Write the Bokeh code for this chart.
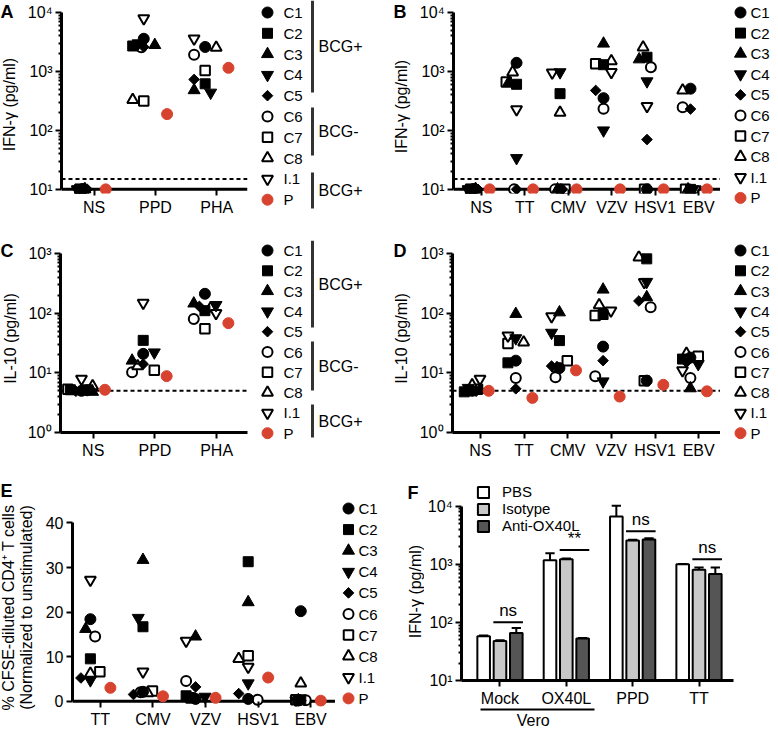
import math
from bokeh.plotting import figure
from bokeh.models import Range1d, FixedTicker, Span, LinearAxis, Legend, LegendItem, ColumnDataSource
from bokeh.layouts import row, column
from bokeh.core.properties import value
from bokeh.embed import file_html
from bokeh.resources import INLINE

FONT = "Liberation Sans"
RED = "#d8432f"
BRACKET = "#333333"

SERIES = ["C1", "C2", "C3", "C4", "C5", "C6", "C7", "C8", "I.1", "P"]

# ---------------- data ----------------
A_CATS = ["NS", "PPD", "PHA"]
A_VALUES = {
    "C1": [10, 3580, 2600], "C2": [10, 2700, 617], "C3": [10, 2800, 480],
    "C4": [10, 3000, 437], "C5": [10, 2600, 731], "C6": [10, 2570, 1920],
    "C7": [10, 314, 1040], "C8": [10, 330, 2530], "I.1": [10, 7900, 3580],
    "P": [10, 189, 1150],
}

B_CATS = ["NS", "TT", "CMV", "VZV", "HSV1", "EBV"]
B_VALUES = {
    "C1": [10, 1400, 10, 352, 10, 510], "C2": [10, 605, 420, 1300, 1740, 10],
    "C3": [10, 650, 10, 2960, 1600, 10], "C4": [10, 34, 970, 100, 680, 10],
    "C5": [10, 10, 10, 476, 70, 230], "C6": [10, 10, 10, 233, 1180, 248],
    "C7": [10, 660, 10, 1350, 10, 10], "C8": [10, 970, 200, 1500, 2570, 476],
    "I.1": [10, 227, 950, 970, 258, 10], "P": [10, 10, 10, 10, 10, 10],
}

C_CATS = ["NS", "PPD", "PHA"]
C_VALUES = {
    "C1": [5.0, 20.8, 211], "C2": [5.2, 35, 110], "C3": [4.8, 16, 145],
    "C4": [5.5, 22, 137], "C5": [4.9, 14, 130], "C6": [5.1, 10.2, 80],
    "C7": [5.3, 11, 55], "C8": [6.0, 13, 120], "I.1": [7.9, 149, 100],
    "P": [5.2, 8.8, 68],
}

D_CATS = ["NS", "TT", "CMV", "VZV", "HSV1", "EBV"]
D_VALUES = {
    "C1": [5.0, 16, 12, 27.5, 7.4, 18], "C2": [4.8, 14.7, 34.7, 95, 813, 17],
    "C3": [5.2, 97, 103, 248, 185, 5.5], "C4": [5.6, 38, 47, 7.2, 335, 14],
    "C5": [4.9, 5.4, 13, 16, 160, 15], "C6": [5.1, 8.2, 8.4, 8.8, 126, 8.2],
    "C7": [5.3, 31, 16, 91, 7.4, 19], "C8": [6.2, 32.5, 12, 137, 865, 21],
    "I.1": [7.9, 42, 88, 110, 330, 11], "P": [5.0, 3.8, 11, 4.0, 6.3, 4.9],
}

E_CATS = ["TT", "CMV", "VZV", "HSV1", "EBV"]
E_VALUES = {
    "C1": [18.4, 2.1, 0.5, 0.5, 20.2], "C2": [9.5, 16.7, 1.2, 31.3, 0.3],
    "C3": [16.2, 31.7, 14.5, 22.2, 0.2], "C4": [4.7, 18.7, 1.0, 4.0, 0.1],
    "C5": [5.2, 1.5, 3.2, 1.7, 0.1], "C6": [14.5, 2.0, 4.5, 0.3, 0.2],
    "C7": [6.6, 2.3, 0.7, 10.2, 0.3], "C8": [6.2, 1.8, 0.5, 9.5, 4.0],
    "I.1": [27.2, 6.6, 13.5, 7.7, 0.2], "P": [3.0, 1.1, 0.75, 5.3, 0.1],
}

F_GROUPS = ["Mock", "OX40L", "PPD", "TT"]
F_SERIES = ["PBS", "Isotype", "Anti-OX40L"]
F_PBS = [57.7, 1175, 6610, 1005]
F_PBS_ERR = [1.5, 365, 3530, 5]
F_ISO = [47.6, 1220, 2560, 806]
F_ISO_ERR = [1.5, 30, 90, 74]
F_ANTI = [65.8, 52.7, 2660, 681]
F_ANTI_ERR = [14, 1, 140, 199]
F_SIG_TEXT = ["ns", "**", "ns", "ns"]
F_SIG_Y = [101, 1757, 3680, 1222]

LOG_LABELS = {1: "10\u2070", 10: "10\u00b9", 100: "10\u00b2", 1000: "10\u00b3", 10000: "10\u2074"}

# ---------------- styles ----------------
STYLE = {
    "C1": dict(marker="circle", fill_color="black", line_color="black", line_width=1, size=11),
    "C2": dict(marker="square", fill_color="black", line_color="black", line_width=1, size=10),
    "C3": dict(marker="triangle", fill_color="black", line_color="black", line_width=1, size=12),
    "C4": dict(marker="inverted_triangle", fill_color="black", line_color="black", line_width=1, size=12),
    "C5": dict(marker="square", fill_color="black", line_color="black", line_width=1, size=7.5, angle=math.pi / 4),
    "C6": dict(marker="circle", fill_color="white", line_color="black", line_width=2, size=10),
    "C7": dict(marker="square", fill_color="white", line_color="black", line_width=2, size=9.5),
    "C8": dict(marker="triangle", fill_color="white", line_color="black", line_width=2, size=11),
    "I.1": dict(marker="inverted_triangle", fill_color="white", line_color="black", line_width=2, size=11),
    "P": dict(marker="circle", fill_color=RED, line_color=RED, line_width=1, size=11),
}
DRAW_ORDER = ["C6", "C7", "C8", "I.1", "C1", "C2", "C3", "C4", "C5", "P"]

CTRL_OFF = -0.19
P_OFF = 0.19


def style_axis(ax, tick_out=6, tick_in=0, standoff=3):
    ax.axis_line_width = 3
    ax.axis_line_color = "black"
    ax.major_tick_line_width = 2
    ax.major_tick_line_color = "black"
    ax.major_tick_out = tick_out
    ax.major_tick_in = tick_in
    ax.minor_tick_line_width = 2
    ax.minor_tick_line_color = "black"
    ax.minor_tick_out = 3
    ax.minor_tick_in = 0
    ax.major_label_text_font = FONT
    ax.major_label_text_font_size = "16px"
    ax.major_label_text_color = "black"
    ax.major_label_standoff = standoff
    ax.axis_label_text_font = FONT
    ax.axis_label_text_font_size = "16px"
    ax.axis_label_text_font_style = "normal"
    ax.axis_label_text_color = "black"


def log_minor(lo_exp, hi_exp):
    return [m * 10 ** e for e in range(lo_exp, hi_exp) for m in range(2, 10)]


def bare_fig(width, height, yr):
    p = figure(width=width, height=height, x_range=Range1d(0, width), y_range=yr,
               x_axis_type=None, y_axis_type=None, toolbar_location=None, output_backend="svg",
               min_border=0, frame_align=False)
    p.outline_line_color = None
    return p


def label_fig(width, height, letter, letter_x, letter_top, lines, line_xs, center_from_top):
    p = bare_fig(width, height, Range1d(0, height))
    p.text(x=[letter_x], y=[height - letter_top], text=[letter], text_font=value(FONT),
           text_font_size=value("18px"), text_font_style="bold", text_baseline="top",
           text_align="left", text_color="black")
    p.text(x=line_xs, y=[height - center_from_top] * len(lines), text=lines, angle=math.pi / 2,
           text_font=value(FONT), text_font_size=value("16px"), text_baseline="middle",
           text_align="center", text_color="black")
    return p


def jitter_x(values, ncat, ypx, ppu):
    spread = 0.18 * ppu
    step = spread / 2
    xs = {s: [] for s in SERIES}
    for i in range(ncat):
        placed = []
        for s in SERIES[:-1]:
            py = ypx(values[s][i])
            ties = [q for q in placed if abs(q[1] - py) < 0.5]
            if ties:
                tie_cands = [0, -2.5, 2.5, -5, 5]
                chosen = ties[0][0] + tie_cands[len(ties) % len(tie_cands)]
            else:
                cands = [0, -step, step, -2 * step, 2 * step]
                chosen, best_d, alt = None, -1, 0
                for dx in cands:
                    d = min([math.hypot(dx - qx, py - qy) for qx, qy in placed], default=1e9)
                    if d >= 10:
                        chosen = dx
                        break
                    if d > best_d:
                        best_d, alt = d, dx
                if chosen is None:
                    chosen = alt
            placed.append((chosen, py))
            xs[s].append(i + CTRL_OFF + chosen / ppu)
        xs["P"].append(i + P_OFF)
    return xs


def scatter_panel(cats, vals, *, log, y_start, y_end, y_bounds, y_ticks, y_minor, width, mb_left,
                  frame_w, height, mb_top, mb_bottom, x_start, x_end, base_y, dash_y):
    fh = height - mb_top - mb_bottom
    p = figure(width=width, height=height, x_range=Range1d(x_start, x_end),
               y_range=Range1d(y_start, y_end), y_axis_type="log" if log else "linear",
               toolbar_location=None, output_backend="svg", frame_align=False,
               min_border_left=mb_left, min_border_right=width - mb_left - frame_w,
               min_border_top=mb_top, min_border_bottom=mb_bottom)
    p.xgrid.visible = False
    p.ygrid.visible = False
    p.outline_line_color = None

    if log:
        l0, l1 = math.log10(y_start), math.log10(y_end)
        ypx = lambda v: (l1 - math.log10(v)) / (l1 - l0) * fh
    else:
        ypx = lambda v: (y_end - v) / (y_end - y_start) * fh

    gap = 0
    if base_y is not None:
        gap = round(fh - ypx(base_y))
    xa = p.xaxis[0]
    style_axis(xa, tick_out=6 - gap, tick_in=gap, standoff=3)
    xa.ticker = FixedTicker(ticks=list(range(len(cats))))
    xa.major_label_overrides = {i: c for i, c in enumerate(cats)}
    if base_y is not None:
        xa.axis_line_color = None
        p.add_layout(Span(location=base_y, dimension="width", line_color="black", line_width=3,
                          level="underlay"))

    ya = p.yaxis[0]
    style_axis(ya)
    ya.ticker = FixedTicker(ticks=y_ticks, minor_ticks=y_minor)
    if log:
        ya.major_label_overrides = {t: LOG_LABELS[t] for t in y_ticks}
    ya.bounds = y_bounds

    if dash_y is not None:
        p.add_layout(Span(location=dash_y, dimension="width", line_color="black",
                          line_width=2, line_dash="4 3", level="underlay"))

    ppu = frame_w / (x_end - x_start)
    xs = jitter_x(vals, len(cats), ypx, ppu)
    for s in DRAW_ORDER:
        src = ColumnDataSource(dict(x=xs[s], y=vals[s]))
        p.scatter("x", "y", source=src, **STYLE[s])
    return p


def legend_panel(width, height, x_marker, x_text, y0, dy, brackets=()):
    p = bare_fig(width, height, Range1d(height, 0))
    ys = [y0 + dy * i for i in range(len(SERIES))]
    for s, y in zip(SERIES, ys):
        p.scatter([x_marker], [y], **STYLE[s])
    p.text(x=[x_text] * len(SERIES), y=ys, text=SERIES, text_font=value(FONT),
           text_font_size=value("15px"), text_baseline="middle", text_align="left",
           text_color="black")
    for lab, top, bot, xl, xt in brackets:
        p.segment([xl], [top], [xl], [bot], line_color=BRACKET, line_width=3)
        p.text(x=[xt], y=[(top + bot) / 2], text=[lab], text_font=value(FONT),
               text_font_size=value("16px"), text_baseline="middle", text_align="left",
               text_color="black")
    return p


# ---------------- panels ----------------
IFN = "IFN-\u03b3 (pg/ml)"
IL10 = "IL-10 (pg/ml)"
H1, H2, H3 = 240, 240, 251

gA = label_fig(24, H1, "A", 0, 1, [IFN], [8.5], 104)
pA = scatter_panel(A_CATS, A_VALUES, log=True, y_start=10 ** 0.93, y_end=10 ** 4.05,
                   y_bounds=(10, 10000), y_ticks=[10, 100, 1000, 10000], y_minor=log_minor(1, 4),
                   width=226, mb_left=35, frame_w=188, height=H1, mb_top=9, mb_bottom=47,
                   x_start=-0.53, x_end=2.5, base_y=10, dash_y=15)
lA = legend_panel(140, H1, 17, 33, 12, 20.8,
                  brackets=[("BCG+", 0, 92, 62, 68), ("BCG-", 107, 155, 62, 68), ("BCG+", 172, 208, 62, 68)])

gB = label_fig(26, H1, "B", 3, 1, [IFN], [11], 106)
pB = scatter_panel(B_CATS, B_VALUES, log=True, y_start=10 ** 0.93, y_end=10 ** 4.05,
                   y_bounds=(10, 10000), y_ticks=[10, 100, 1000, 10000], y_minor=log_minor(1, 4),
                   width=304, mb_left=33, frame_w=271, height=H1, mb_top=9, mb_bottom=47,
                   x_start=-0.64, x_end=5.5, base_y=10, dash_y=15)
lB = legend_panel(56, H1, 20, 30, 12, 20.6)

gC = label_fig(24, H2, "C", 0, 0, [IL10], [9.5], 98)
pC = scatter_panel(C_CATS, C_VALUES, log=True, y_start=1, y_end=10 ** 3.05,
                   y_bounds=(1, 1000), y_ticks=[1, 10, 100, 1000], y_minor=log_minor(0, 3),
                   width=226, mb_left=35, frame_w=188, height=H2, mb_top=10, mb_bottom=48,
                   x_start=-0.53, x_end=2.5, base_y=None, dash_y=5)
lC = legend_panel(140, H2, 17, 33, 10, 20.3,
                  brackets=[("BCG+", 0, 87, 62, 68), ("BCG-", 101, 150, 62, 68), ("BCG+", 164, 197, 62, 68)])

gD = label_fig(26, H2, "D", 3, 0, [IL10], [11], 98)
pD = scatter_panel(D_CATS, D_VALUES, log=True, y_start=1, y_end=10 ** 3.05,
                   y_bounds=(1, 1000), y_ticks=[1, 10, 100, 1000], y_minor=log_minor(0, 3),
                   width=304, mb_left=33, frame_w=271, height=H2, mb_top=10, mb_bottom=48,
                   x_start=-0.64, x_end=5.5, base_y=None, dash_y=5)
lD = legend_panel(56, H2, 20, 30, 10, 20.3)

gE = label_fig(42, H3, "E", 0, 0,
               ["% CFSE-diluted CD4\u207a T cells", "(Normalized to unstimulated)"], [8, 26], 127)
pE = scatter_panel(E_CATS, E_VALUES, log=False, y_start=-1.2, y_end=41, y_bounds=(0, 40),
                   y_ticks=[0, 10, 20, 30, 40], y_minor=[], width=293, mb_left=28, frame_w=265,
                   height=H3, mb_top=38, mb_bottom=25, x_start=-0.53, x_end=4.47, base_y=0,
                   dash_y=None)
lE = legend_panel(55, H3, 13, 23, 28, 21.1)

# ---------------- panel F ----------------
gF = label_fig(34, H3, "F", 17, 2, [IFN], [25], 111)
F_W, F_H, F_ML, F_FW, F_MT, F_MB = 352, H3, 34, 275, 1, 48
f_fh = F_H - F_MT - F_MB
f_top_exp = 1 + f_fh / 59.0
pF = figure(width=F_W, height=F_H, x_range=Range1d(-0.58, 3.52), y_range=Range1d(10, 10 ** f_top_exp),
            y_axis_type="log", toolbar_location=None, output_backend="svg", frame_align=False,
            min_border_left=F_ML, min_border_right=F_W - F_ML - F_FW, min_border_top=F_MT,
            min_border_bottom=F_MB)
pF.xgrid.visible = False
pF.ygrid.visible = False
pF.outline_line_color = None
fx = pF.xaxis[0]
style_axis(fx)
fx.ticker = FixedTicker(ticks=list(range(len(F_GROUPS))))
fx.major_label_overrides = {i: g for i, g in enumerate(F_GROUPS)}
fy = pF.yaxis[0]
style_axis(fy)
fy.ticker = FixedTicker(ticks=[10, 100, 1000, 10000], minor_ticks=log_minor(1, 4))
fy.major_label_overrides = {t: LOG_LABELS[t] for t in [10, 100, 1000, 10000]}
fy.bounds = (10, 10000)

vero = LinearAxis(ticker=FixedTicker(ticks=[0.5]), major_label_overrides={0.5: "Vero"},
                  bounds=(-0.3, 1.42))
style_axis(vero, tick_out=0, standoff=2)
vero.axis_line_width = 2
vero.major_tick_line_color = None
vero.minor_tick_line_color = None
pF.add_layout(vero, "below")

BAR_OFF = 0.246
BAR_W = 0.19
f_cols = ["white", "#c8c8c8", "#555555"]
f_means = [F_PBS, F_ISO, F_ANTI]
f_errs = [F_PBS_ERR, F_ISO_ERR, F_ANTI_ERR]
renderers = []
for k in range(3):
    xs = [g + (k - 1) * BAR_OFF for g in range(len(F_GROUPS))]
    tops = [m + e for m, e in zip(f_means[k], f_errs[k])]
    pF.segment(xs, f_means[k], xs, tops, line_color="black", line_width=2)
    pF.segment([x - 0.07 for x in xs], tops, [x + 0.07 for x in xs], tops, line_color="black", line_width=2)
    r = pF.vbar(x=xs, top=f_means[k], bottom=10, width=BAR_W, fill_color=f_cols[k],
                line_color="black", line_width=2)
    renderers.append(r)

sig_x0 = [g - 0.1 for g in range(len(F_GROUPS))]
sig_x1 = [g + BAR_OFF + 0.1 for g in range(len(F_GROUPS))]
pF.segment(sig_x0, F_SIG_Y, sig_x1, F_SIG_Y, line_color="black", line_width=2)
pF.text(x=[g + BAR_OFF / 2 for g in range(len(F_GROUPS))], y=[v * 10 ** (2 / 59.0) for v in F_SIG_Y],
        text=F_SIG_TEXT, text_font=value(FONT), text_font_size=value("17px"),
        text_align="center", text_baseline="bottom", text_color="black")

legF = Legend(items=[LegendItem(label=lab, renderers=[r]) for lab, r in zip(F_SERIES, renderers)],
              location=(15, f_fh - 56))
legF.label_text_font = FONT
legF.label_text_font_size = "15px"
legF.label_text_color = "black"
legF.glyph_width = 14
legF.glyph_height = 14
legF.label_height = 14
legF.label_standoff = 12
legF.spacing = 0
legF.padding = 0
legF.margin = 0
legF.border_line_color = None
legF.background_fill_alpha = 0
pF.add_layout(legF)

layout = column(
    row(gA, pA, lA, gB, pB, lB),
    row(gC, pC, lC, gD, pD, lD),
    row(gE, pE, lE, gF, pF),
)

open("out.html", "w").write(file_html(layout, INLINE))
